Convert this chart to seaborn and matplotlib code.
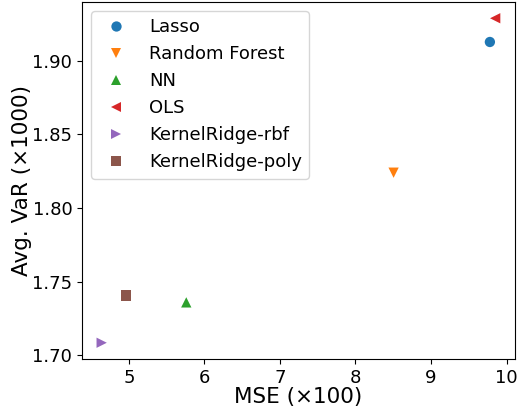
import numpy as np
import pandas as pd
import matplotlib
matplotlib.use('Agg')
import matplotlib.pyplot as plt
import seaborn as sns

models = ['Lasso', 'Random Forest', 'NN', 'OLS', 'KernelRidge-rbf', 'KernelRidge-poly']
mse = [9.78, 8.505, 5.76, 9.85, 4.64, 4.965]
avg_var = [1.9127, 1.824, 1.736, 1.9288, 1.7086, 1.7407]
marker_list = ['o', 'v', '^', '<', '>', 's']

df = pd.DataFrame({'model': models, 'mse': mse, 'var': avg_var})

fig, ax = plt.subplots(figsize=(5.19, 4.07), dpi=100)
sns.scatterplot(data=df, x='mse', y='var', hue='model', style='model',
                markers=marker_list, palette='tab10', s=55, linewidth=0, ax=ax)

ax.set_xlabel('MSE (\u00d7100)', fontsize=15.5, labelpad=0)
ax.set_ylabel('Avg. VaR (\u00d71000)', fontsize=15.5, labelpad=0)
ax.tick_params(labelsize=13)
ax.set_xticks([5, 6, 7, 8, 9, 10])
ax.set_yticks([1.70, 1.75, 1.80, 1.85, 1.90])
ax.set_yticklabels(['1.70', '1.75', '1.80', '1.85', '1.90'])

sns.move_legend(ax, 'upper left', title=None, fontsize=13, frameon=True)

plt.subplots_adjust(left=0.158, right=0.992, top=0.995, bottom=0.118)
plt.savefig('out.png')
